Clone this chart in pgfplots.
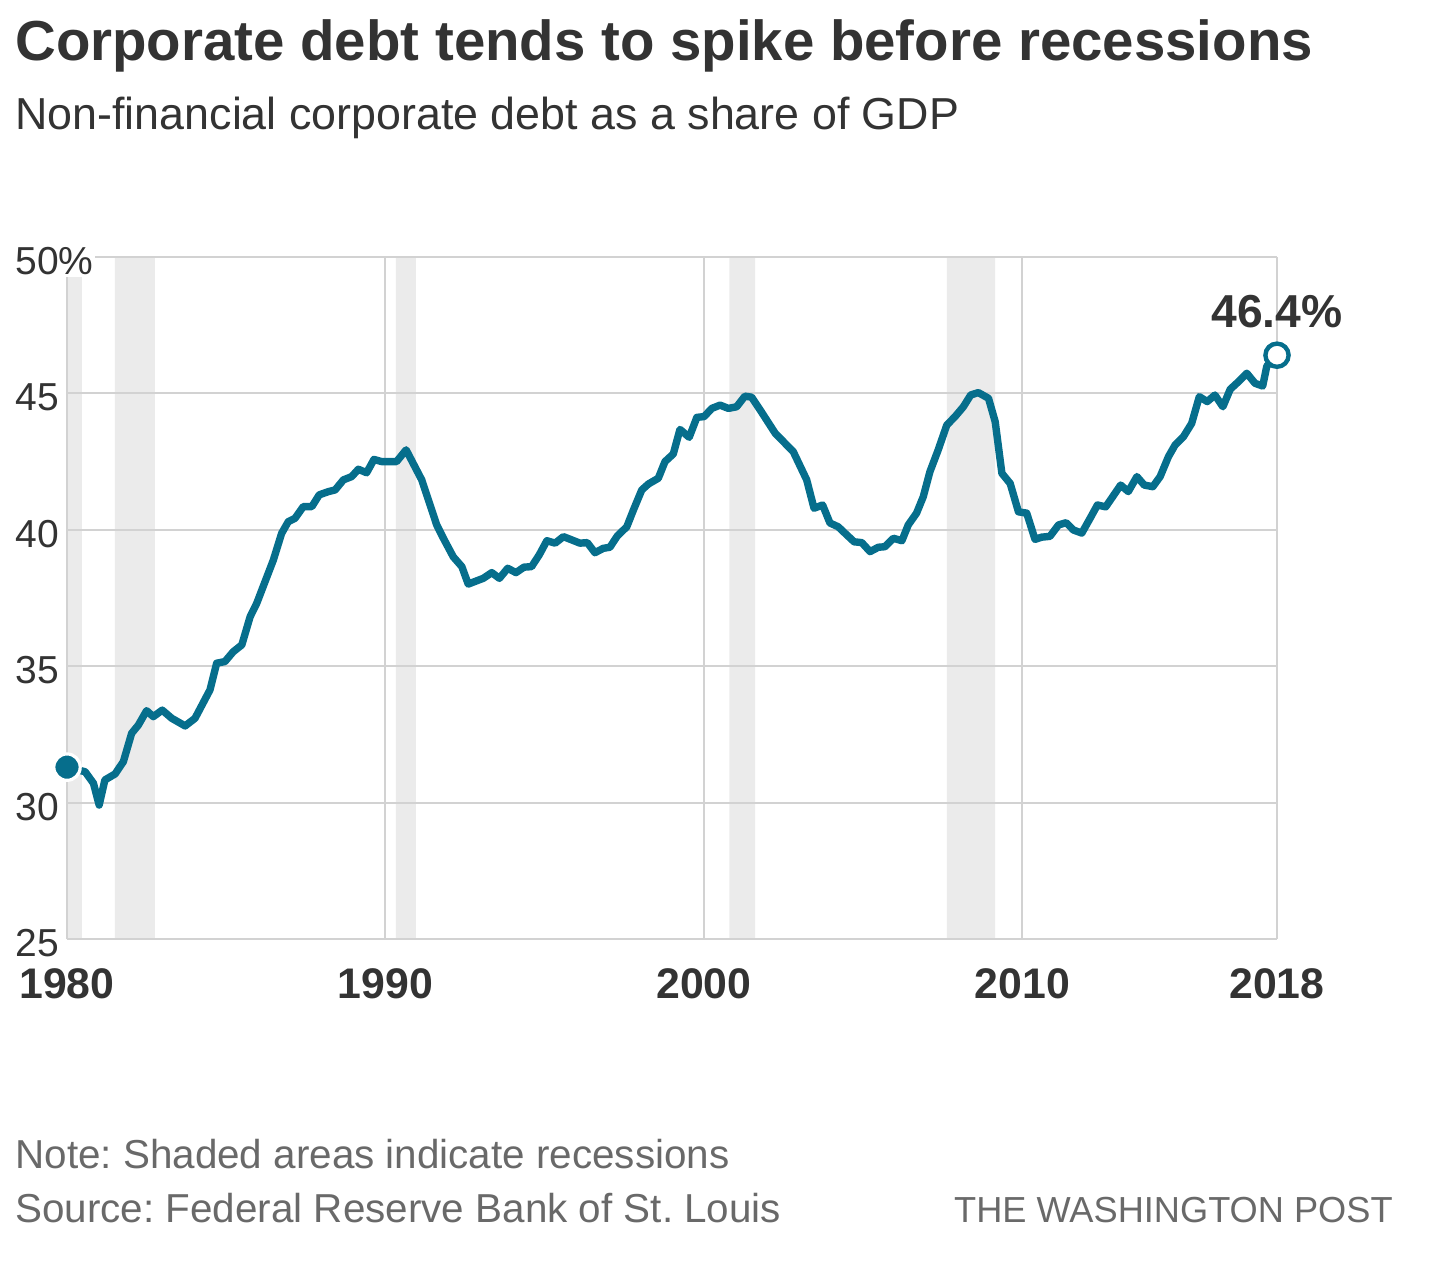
\documentclass[border=0pt]{standalone}
\usepackage{pgfplots}
\pgfplotsset{compat=1.18}
\usepackage{fontspec}
\setmainfont{Liberation Sans}
\definecolor{wpteal}{RGB}{6,110,140}
\definecolor{gridgray}{RGB}{210,210,210}
\definecolor{recgray}{RGB}{235,235,235}
\definecolor{txt}{RGB}{51,51,51}
\definecolor{foot}{RGB}{105,105,105}
\begin{document}
\frenchspacing
\begin{tikzpicture}
\path (0,0) rectangle (714.5pt,632.5pt);
\node[anchor=base west, inner sep=0, text=txt, font=\bfseries\fontsize{28.2pt}{32pt}\selectfont] at (7.5pt,602pt) {Corporate debt tends to spike before recessions};
\node[anchor=base west, inner sep=0, text=txt, font=\fontsize{22.4pt}{26pt}\selectfont] at (7.5pt,567.5pt) {Non-financial corporate debt as a share of GDP};
\node[anchor=base west, inner sep=0, text=foot, font=\fontsize{20.2pt}{24pt}\selectfont] at (7.5pt,48.5pt) {Note: Shaded areas indicate recessions};
\node[anchor=base west, inner sep=0, text=foot, font=\fontsize{20.2pt}{24pt}\selectfont] at (7.5pt,21.5pt) {Source: Federal Reserve Bank of St. Louis};
\node[anchor=base east, inner sep=0, text=foot, font=\fontsize{18.1pt}{22pt}\selectfont] at (696.5pt,21.5pt) {THE WASHINGTON POST};
\begin{axis}[
  at={(33.5pt,163pt)}, anchor=south west,
  scale only axis, width=605pt, height=341pt,
  xmin=1980, xmax=2018, ymin=25, ymax=50,
  clip=false,
  set layers,
  axis line style={draw=none},
  major tick length=0pt,
  xtick={1980,1990,2000,2010,2018},
  xticklabels={1980,1990,2000,2010,2018},
  ytick={25,30,35,40,45,50},
  yticklabels={25,30,35,40,45,{50\%\hspace{12pt}}},
  grid=major,
  major grid style={draw=gridgray, line width=1pt},
  xticklabel style={anchor=north, inner sep=0pt, yshift=-14.5pt, text=txt, font=\bfseries\fontsize{21.4pt}{24pt}\selectfont},
  yticklabel style={anchor=west, inner xsep=1pt, inner ysep=1pt, fill=white, xshift=-27pt, yshift=-2pt, text=txt, font=\fontsize{19.5pt}{22pt}\selectfont},
]
% recession bands
\addplot[fill=recgray, draw=none, on layer=axis background] coordinates {(1980.03,25) (1980.47,25) (1980.47,50) (1980.03,50) (1980.03,25)};
\addplot[fill=recgray, draw=none, on layer=axis background] coordinates {(1981.5,25) (1982.76,25) (1982.76,50) (1981.5,50) (1981.5,25)};
\addplot[fill=recgray, draw=none, on layer=axis background] coordinates {(1990.33,25) (1990.96,25) (1990.96,50) (1990.33,50) (1990.33,25)};
\addplot[fill=recgray, draw=none, on layer=axis background] coordinates {(2000.8,25) (2001.61,25) (2001.61,50) (2000.8,50) (2000.8,25)};
\addplot[fill=recgray, draw=none, on layer=axis background] coordinates {(2007.63,25) (2009.15,25) (2009.15,50) (2007.63,50) (2007.63,25)};
% debt series
\addplot[wpteal, line width=3.7pt, line join=round, line cap=round] coordinates {
(1980.00,31.30) (1980.57,31.13) (1980.83,30.71) (1981.01,29.91) (1981.19,30.83) (1981.51,31.05)
(1981.77,31.50) (1982.03,32.54) (1982.24,32.84) (1982.50,33.37) (1982.71,33.15) (1982.99,33.39)
(1983.29,33.09) (1983.71,32.81) (1984.02,33.09) (1984.49,34.13) (1984.70,35.11) (1984.96,35.17)
(1985.22,35.53) (1985.49,35.78) (1985.75,36.81) (1985.96,37.31) (1986.48,38.89) (1986.74,39.87)
(1986.95,40.30) (1987.16,40.42) (1987.42,40.85) (1987.69,40.85) (1987.92,41.28) (1988.21,41.40)
(1988.42,41.46) (1988.68,41.83) (1988.94,41.95) (1989.15,42.22) (1989.41,42.09) (1989.64,42.58)
(1989.88,42.50) (1990.35,42.50) (1990.65,42.93) (1991.14,41.83) (1991.61,40.18) (1991.82,39.69)
(1992.13,39.01) (1992.40,38.65) (1992.60,38.01) (1993.07,38.22) (1993.34,38.43) (1993.58,38.22)
(1993.84,38.59) (1994.10,38.43) (1994.35,38.63) (1994.59,38.65) (1994.83,39.08) (1995.07,39.60)
(1995.33,39.51) (1995.59,39.75) (1995.85,39.63) (1996.11,39.51) (1996.34,39.53) (1996.58,39.16)
(1996.84,39.32) (1997.05,39.36) (1997.28,39.77) (1997.58,40.11) (1997.79,40.73) (1998.05,41.46)
(1998.26,41.68) (1998.57,41.89) (1998.78,42.50) (1999.04,42.78) (1999.25,43.68) (1999.54,43.39)
(1999.78,44.12) (2000.01,44.15) (2000.25,44.45) (2000.51,44.57) (2000.77,44.45) (2001.03,44.51)
(2001.29,44.90) (2001.50,44.86) (2001.77,44.39) (2002.24,43.54) (2002.50,43.23) (2002.81,42.86)
(2003.23,41.83) (2003.46,40.79) (2003.73,40.91) (2003.96,40.25) (2004.22,40.11) (2004.49,39.81)
(2004.72,39.56) (2004.96,39.53) (2005.22,39.20) (2005.48,39.36) (2005.69,39.38) (2005.95,39.69)
(2006.22,39.60) (2006.42,40.18) (2006.68,40.61) (2006.89,41.21) (2007.10,42.13) (2007.36,42.93)
(2007.63,43.84) (2007.89,44.15) (2008.15,44.51) (2008.38,44.94) (2008.62,45.03) (2008.94,44.82)
(2009.15,43.96) (2009.36,42.07) (2009.62,41.70) (2009.88,40.66) (2010.14,40.61) (2010.40,39.65)
(2010.61,39.73) (2010.87,39.76) (2011.14,40.18) (2011.38,40.26) (2011.61,39.99) (2011.87,39.88)
(2012.13,40.42) (2012.36,40.91) (2012.62,40.84) (2013.09,41.64) (2013.33,41.40) (2013.60,41.95)
(2013.83,41.64) (2014.10,41.58) (2014.33,41.95) (2014.59,42.68) (2014.80,43.11) (2015.06,43.41)
(2015.32,43.90) (2015.56,44.88) (2015.81,44.70) (2016.05,44.94) (2016.30,44.51) (2016.53,45.15)
(2016.79,45.43) (2017.05,45.74) (2017.31,45.37) (2017.55,45.27) (2017.68,46.00) (2018.00,46.40)
};
% end markers
\addplot[only marks, mark=*, mark size=6.6pt, mark options={fill=wpteal, draw=white, line width=1.6pt}] coordinates {(1980,31.3)};
\addplot[only marks, mark=*, mark size=5.8pt, mark options={fill=white, draw=wpteal, line width=2.2pt}] coordinates {(2018,46.4)};
\node[anchor=base, inner sep=0, text=txt, font=\bfseries\fontsize{23.1pt}{26pt}\selectfont, yshift=14pt] at (axis cs:2018,46.4) {46.4\%};
\end{axis}
\end{tikzpicture}
\end{document}
